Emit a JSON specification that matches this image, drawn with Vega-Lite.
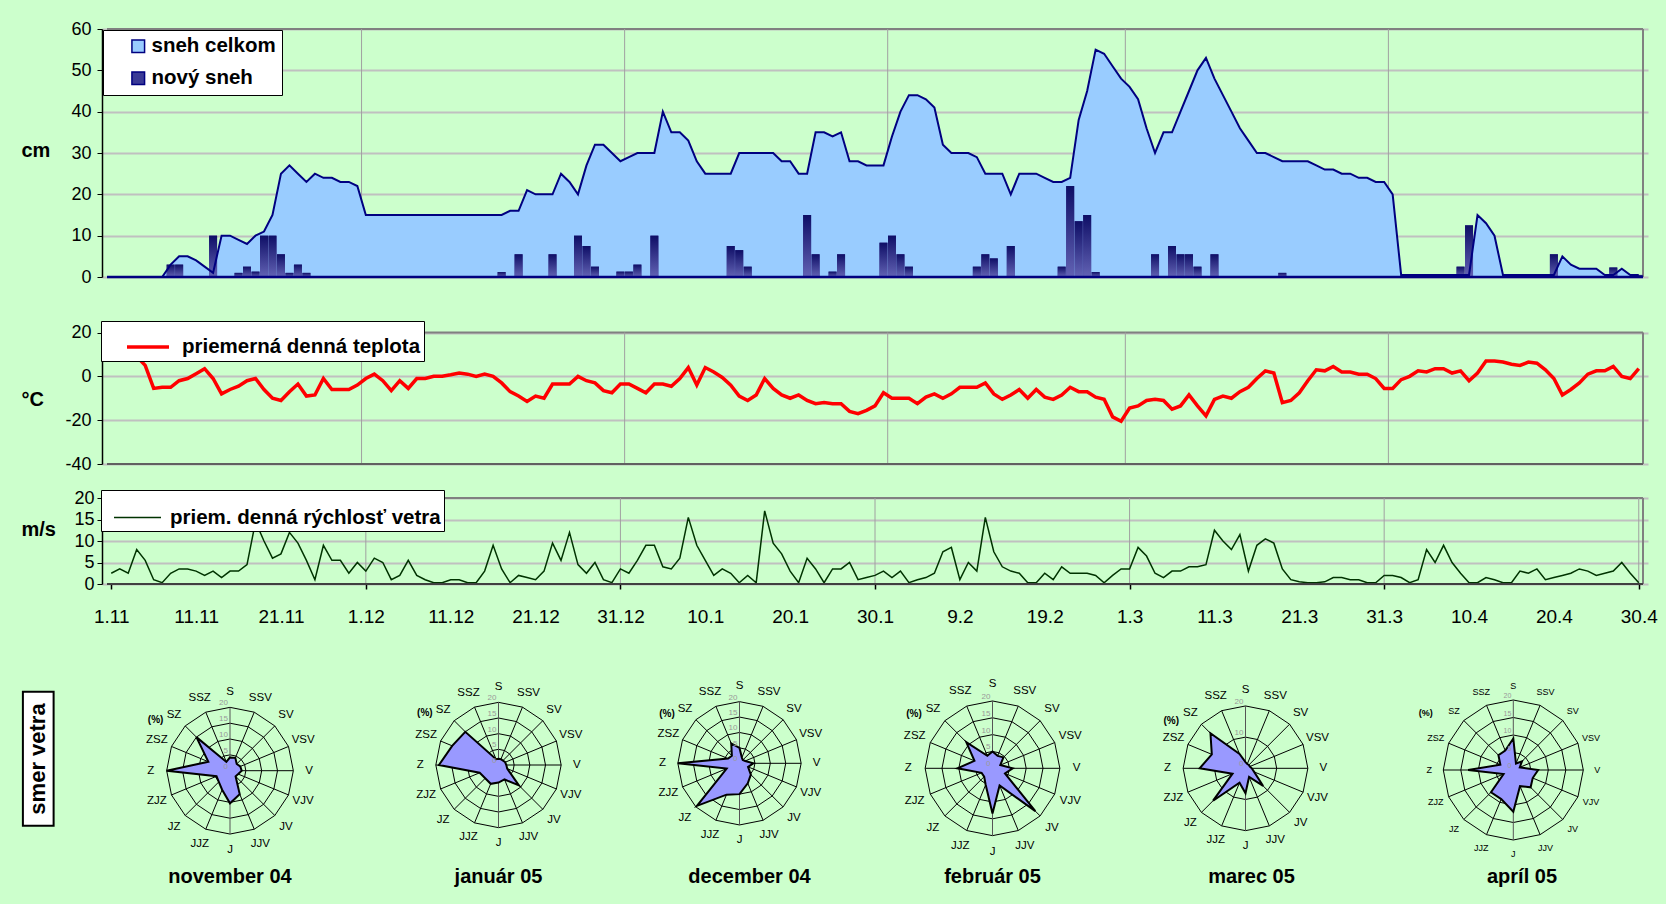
{
"$schema": "https://vega.github.io/schema/vega-lite/v6.json",
"background": "#CCFFCC",
"padding": {"left": 21, "top": 20, "right": 0, "bottom": 17},
"bounds": "flush",
"spacing": 80,
"datasets": {
"days": [
{"d":0,"snow":0,"newSnow":0,"temp":10,"wind":2.5},{"d":1,"snow":0,"newSnow":0,"temp":10,"wind":3.5},{"d":2,"snow":0,"newSnow":0,"temp":10,"wind":2.5},{"d":3,"snow":0,"newSnow":0,"temp":9,"wind":8},{"d":4,"snow":0,"newSnow":0,"temp":5,"wind":5.5},{"d":5,"snow":0,"newSnow":0,"temp":-5.5,"wind":1},{"d":6,"snow":0,"newSnow":0,"temp":-5,"wind":0.3},{"d":7,"snow":3,"newSnow":3,"temp":-5,"wind":2.5},{"d":8,"snow":5,"newSnow":3,"temp":-2,"wind":3.5},{"d":9,"snow":5,"newSnow":0,"temp":-1,"wind":3.5},
{"d":10,"snow":4,"newSnow":0,"temp":1.2,"wind":3},{"d":11,"snow":2.5,"newSnow":0,"temp":3.5,"wind":2},{"d":12,"snow":1,"newSnow":10,"temp":-1,"wind":3},{"d":13,"snow":10,"newSnow":0,"temp":-8,"wind":1.5},{"d":14,"snow":10,"newSnow":0,"temp":-6,"wind":3},{"d":15,"snow":9,"newSnow":1,"temp":-4.5,"wind":3},{"d":16,"snow":8,"newSnow":2.5,"temp":-2,"wind":4.5},{"d":17,"snow":10,"newSnow":1.3,"temp":-1,"wind":14.5},{"d":18,"snow":11,"newSnow":10,"temp":-6,"wind":10},{"d":19,"snow":15,"newSnow":10,"temp":-10,"wind":6},
{"d":20,"snow":25,"newSnow":5.5,"temp":-11,"wind":7},{"d":21,"snow":27,"newSnow":1,"temp":-7,"wind":12},{"d":22,"snow":25,"newSnow":3,"temp":-3.5,"wind":9.5},{"d":23,"snow":23,"newSnow":1,"temp":-9,"wind":5.5},{"d":24,"snow":25,"newSnow":0,"temp":-8.5,"wind":1},{"d":25,"snow":24,"newSnow":0,"temp":-1,"wind":9},{"d":26,"snow":24,"newSnow":0,"temp":-6,"wind":5.5},{"d":27,"snow":23,"newSnow":0,"temp":-6,"wind":5.5},{"d":28,"snow":23,"newSnow":0,"temp":-6,"wind":2.5},{"d":29,"snow":22,"newSnow":0,"temp":-4,"wind":5},
{"d":30,"snow":15,"newSnow":0,"temp":-1,"wind":3},{"d":31,"snow":15,"newSnow":0,"temp":1,"wind":6},{"d":32,"snow":15,"newSnow":0,"temp":-2,"wind":5},{"d":33,"snow":15,"newSnow":0,"temp":-6.5,"wind":1},{"d":34,"snow":15,"newSnow":0,"temp":-2,"wind":2},{"d":35,"snow":15,"newSnow":0,"temp":-5.5,"wind":5.5},{"d":36,"snow":15,"newSnow":0,"temp":-1,"wind":2},{"d":37,"snow":15,"newSnow":0,"temp":-1,"wind":1},{"d":38,"snow":15,"newSnow":0,"temp":0,"wind":0.3},{"d":39,"snow":15,"newSnow":0,"temp":0,"wind":0.3},
{"d":40,"snow":15,"newSnow":0,"temp":0.7,"wind":1},{"d":41,"snow":15,"newSnow":0,"temp":1.5,"wind":1},{"d":42,"snow":15,"newSnow":0,"temp":1,"wind":0.3},{"d":43,"snow":15,"newSnow":0,"temp":0,"wind":0.3},{"d":44,"snow":15,"newSnow":0,"temp":1,"wind":3},{"d":45,"snow":15,"newSnow":0,"temp":0,"wind":9},{"d":46,"snow":15,"newSnow":1.2,"temp":-3,"wind":3.5},{"d":47,"snow":16,"newSnow":0,"temp":-7,"wind":0.3},{"d":48,"snow":16,"newSnow":5.5,"temp":-9,"wind":2},{"d":49,"snow":21,"newSnow":0,"temp":-11.5,"wind":1.5},
{"d":50,"snow":20,"newSnow":0,"temp":-9,"wind":1},{"d":51,"snow":20,"newSnow":0,"temp":-10,"wind":3},{"d":52,"snow":20,"newSnow":5.5,"temp":-3.5,"wind":9.5},{"d":53,"snow":25,"newSnow":0,"temp":-3.5,"wind":5.5},{"d":54,"snow":23,"newSnow":0,"temp":-3.5,"wind":12},{"d":55,"snow":20,"newSnow":10,"temp":0,"wind":4.5},{"d":56,"snow":27,"newSnow":7.5,"temp":-2,"wind":2.5},{"d":57,"snow":32,"newSnow":2.5,"temp":-3,"wind":5},{"d":58,"snow":32,"newSnow":0,"temp":-6.5,"wind":1},{"d":59,"snow":30,"newSnow":0,"temp":-7.5,"wind":0.3},
{"d":60,"snow":28,"newSnow":1.3,"temp":-3.5,"wind":3.5},{"d":61,"snow":29,"newSnow":1.3,"temp":-3.5,"wind":2.5},{"d":62,"snow":30,"newSnow":3,"temp":-5.5,"wind":5.5},{"d":63,"snow":30,"newSnow":0,"temp":-7.5,"wind":9},{"d":64,"snow":30,"newSnow":10,"temp":-3.5,"wind":9},{"d":65,"snow":40,"newSnow":0,"temp":-3.5,"wind":4},{"d":66,"snow":35,"newSnow":0,"temp":-4.5,"wind":3.5},{"d":67,"snow":35,"newSnow":0,"temp":-1,"wind":6},{"d":68,"snow":33,"newSnow":0,"temp":4,"wind":15.5},{"d":69,"snow":28,"newSnow":0,"temp":-4,"wind":9},
{"d":70,"snow":25,"newSnow":0,"temp":4,"wind":5.5},{"d":71,"snow":25,"newSnow":0,"temp":2,"wind":2},{"d":72,"snow":25,"newSnow":0,"temp":-0.5,"wind":3.5},{"d":73,"snow":25,"newSnow":7.5,"temp":-4,"wind":2.5},{"d":74,"snow":30,"newSnow":6.5,"temp":-9,"wind":0.3},{"d":75,"snow":30,"newSnow":2.5,"temp":-11,"wind":2},{"d":76,"snow":30,"newSnow":0,"temp":-8.5,"wind":0.3},{"d":77,"snow":30,"newSnow":0,"temp":-1,"wind":17},{"d":78,"snow":30,"newSnow":0,"temp":-5.5,"wind":9.5},{"d":79,"snow":28,"newSnow":0,"temp":-8.5,"wind":7},
{"d":80,"snow":28,"newSnow":0,"temp":-10,"wind":3},{"d":81,"snow":25,"newSnow":0,"temp":-8.5,"wind":0.3},{"d":82,"snow":25,"newSnow":15,"temp":-11,"wind":6},{"d":83,"snow":35,"newSnow":5.5,"temp":-12.5,"wind":3.5},{"d":84,"snow":35,"newSnow":0,"temp":-12,"wind":0.3},{"d":85,"snow":34,"newSnow":1.3,"temp":-12.5,"wind":3.5},{"d":86,"snow":35,"newSnow":5.5,"temp":-12.5,"wind":3.5},{"d":87,"snow":28,"newSnow":0,"temp":-16,"wind":5},{"d":88,"snow":28,"newSnow":0,"temp":-17,"wind":1},{"d":89,"snow":27,"newSnow":0,"temp":-15.5,"wind":1.5},
{"d":90,"snow":27,"newSnow":0,"temp":-13.5,"wind":2},{"d":91,"snow":27,"newSnow":8.3,"temp":-7.5,"wind":3},{"d":92,"snow":34,"newSnow":10,"temp":-10,"wind":1.5},{"d":93,"snow":40,"newSnow":5.5,"temp":-10,"wind":3},{"d":94,"snow":44,"newSnow":2.5,"temp":-10,"wind":0.3},{"d":95,"snow":44,"newSnow":0,"temp":-12.5,"wind":1},{"d":96,"snow":43,"newSnow":0,"temp":-9.5,"wind":1.5},{"d":97,"snow":41,"newSnow":0,"temp":-8,"wind":2.5},{"d":98,"snow":32,"newSnow":0,"temp":-10,"wind":7.5},{"d":99,"snow":30,"newSnow":0,"temp":-8,"wind":8.5},
{"d":100,"snow":30,"newSnow":0,"temp":-5,"wind":1},{"d":101,"snow":30,"newSnow":0,"temp":-5,"wind":5},{"d":102,"snow":29,"newSnow":2.5,"temp":-5,"wind":3},{"d":103,"snow":25,"newSnow":5.5,"temp":-3,"wind":15.5},{"d":104,"snow":25,"newSnow":4.5,"temp":-8,"wind":7.5},{"d":105,"snow":25,"newSnow":0,"temp":-10.5,"wind":4},{"d":106,"snow":20,"newSnow":7.5,"temp":-8.5,"wind":3},{"d":107,"snow":25,"newSnow":0,"temp":-6,"wind":2.5},{"d":108,"snow":25,"newSnow":0,"temp":-10,"wind":0.3},{"d":109,"snow":25,"newSnow":0,"temp":-6,"wind":0.3},
{"d":110,"snow":24,"newSnow":0,"temp":-9.5,"wind":2.5},{"d":111,"snow":23,"newSnow":0,"temp":-10.5,"wind":1},{"d":112,"snow":23,"newSnow":2.5,"temp":-8.5,"wind":4},{"d":113,"snow":24,"newSnow":22,"temp":-5,"wind":2.5},{"d":114,"snow":38,"newSnow":13.5,"temp":-7,"wind":2.5},{"d":115,"snow":45,"newSnow":15,"temp":-7,"wind":2.5},{"d":116,"snow":55,"newSnow":1.2,"temp":-9.5,"wind":2},{"d":117,"snow":54,"newSnow":0,"temp":-10.5,"wind":0.3},{"d":118,"snow":51,"newSnow":0,"temp":-18.5,"wind":2},{"d":119,"snow":48,"newSnow":0,"temp":-20.5,"wind":3.5},
{"d":120,"snow":46,"newSnow":0,"temp":-14.5,"wind":3.5},{"d":121,"snow":43,"newSnow":0,"temp":-13.5,"wind":8.5},{"d":122,"snow":36,"newSnow":0,"temp":-11,"wind":6.5},{"d":123,"snow":30,"newSnow":5.5,"temp":-10.5,"wind":2.5},{"d":124,"snow":35,"newSnow":0,"temp":-11,"wind":1.5},{"d":125,"snow":35,"newSnow":7.5,"temp":-15,"wind":3},{"d":126,"snow":40,"newSnow":5.5,"temp":-13.5,"wind":3},{"d":127,"snow":45,"newSnow":5.5,"temp":-8.5,"wind":4},{"d":128,"snow":50,"newSnow":2.5,"temp":-13.5,"wind":4},{"d":129,"snow":53,"newSnow":0,"temp":-18,"wind":4.5},
{"d":130,"snow":48,"newSnow":5.5,"temp":-10.5,"wind":12.5},{"d":131,"snow":44,"newSnow":0,"temp":-9,"wind":10},{"d":132,"snow":40,"newSnow":0,"temp":-10,"wind":8},{"d":133,"snow":36,"newSnow":0,"temp":-7,"wind":11.5},{"d":134,"snow":33,"newSnow":0,"temp":-5,"wind":3},{"d":135,"snow":30,"newSnow":0,"temp":-1,"wind":9},{"d":136,"snow":30,"newSnow":0,"temp":2.5,"wind":10.5},{"d":137,"snow":29,"newSnow":0,"temp":1.5,"wind":9.5},{"d":138,"snow":28,"newSnow":1,"temp":-12,"wind":3.5},{"d":139,"snow":28,"newSnow":0,"temp":-11,"wind":1},
{"d":140,"snow":28,"newSnow":0,"temp":-7.5,"wind":0.5},{"d":141,"snow":28,"newSnow":0,"temp":-2,"wind":0.3},{"d":142,"snow":27,"newSnow":0,"temp":3,"wind":0.3},{"d":143,"snow":26,"newSnow":0,"temp":2.5,"wind":0.5},{"d":144,"snow":26,"newSnow":0,"temp":4.5,"wind":1.5},{"d":145,"snow":25,"newSnow":0,"temp":2,"wind":1.5},{"d":146,"snow":25,"newSnow":0,"temp":2,"wind":1},{"d":147,"snow":24,"newSnow":0,"temp":1,"wind":1},{"d":148,"snow":24,"newSnow":0,"temp":1,"wind":0.3},{"d":149,"snow":23,"newSnow":0,"temp":-1,"wind":0.3},
{"d":150,"snow":23,"newSnow":0,"temp":-5.5,"wind":2},{"d":151,"snow":20,"newSnow":0,"temp":-5.5,"wind":2},{"d":152,"snow":0.5,"newSnow":0,"temp":-1.5,"wind":1.5},{"d":153,"snow":0.5,"newSnow":0,"temp":0,"wind":0.3},{"d":154,"snow":0.5,"newSnow":0,"temp":2.5,"wind":1},{"d":155,"snow":0.5,"newSnow":0,"temp":2,"wind":8},{"d":156,"snow":0.5,"newSnow":0,"temp":3.5,"wind":5},{"d":157,"snow":0.5,"newSnow":0,"temp":3.5,"wind":9},{"d":158,"snow":0.5,"newSnow":0,"temp":1.5,"wind":5},{"d":159,"snow":0.5,"newSnow":2.5,"temp":2.5,"wind":2.5},
{"d":160,"snow":0.5,"newSnow":12.5,"temp":-2,"wind":0.3},{"d":161,"snow":15,"newSnow":0,"temp":1.5,"wind":0.3},{"d":162,"snow":13,"newSnow":0,"temp":7,"wind":1.5},{"d":163,"snow":10,"newSnow":0,"temp":7,"wind":1},{"d":164,"snow":0.5,"newSnow":0,"temp":6.5,"wind":0.3},{"d":165,"snow":0.5,"newSnow":0,"temp":5.5,"wind":0.3},{"d":166,"snow":0.5,"newSnow":0,"temp":5,"wind":3},{"d":167,"snow":0.5,"newSnow":0,"temp":6.5,"wind":2.5},{"d":168,"snow":0.5,"newSnow":0,"temp":6,"wind":3.5},{"d":169,"snow":0.5,"newSnow":0,"temp":3,"wind":1},
{"d":170,"snow":0.5,"newSnow":5.5,"temp":-1,"wind":1.5},{"d":171,"snow":5,"newSnow":0,"temp":-8.5,"wind":2},{"d":172,"snow":3,"newSnow":0,"temp":-6,"wind":2.5},{"d":173,"snow":2,"newSnow":0,"temp":-3,"wind":3.5},{"d":174,"snow":2,"newSnow":0,"temp":1,"wind":3},{"d":175,"snow":2,"newSnow":0,"temp":2.5,"wind":2},{"d":176,"snow":0.5,"newSnow":0,"temp":2.5,"wind":2.5},{"d":177,"snow":0.5,"newSnow":2.3,"temp":4.5,"wind":3},{"d":178,"snow":2,"newSnow":0,"temp":0,"wind":5},{"d":179,"snow":0.5,"newSnow":0,"temp":-1,"wind":2.5},
{"d":180,"snow":0.5,"newSnow":0.5,"temp":3.5,"wind":0.3}
],
"months": [{"den":30},{"den":61},{"den":92},{"den":120},{"den":151}],
"tri": [{"den":30},{"den":60},{"den":90},{"den":120},{"den":150},{"den":180}],
"dirs": [
{"dir":"S","i":0,"ring":[5,10,15,20]},{"dir":"SSV","i":1,"ring":[5,10,15,20]},{"dir":"SV","i":2,"ring":[5,10,15,20]},{"dir":"VSV","i":3,"ring":[5,10,15,20]},
{"dir":"V","i":4,"ring":[5,10,15,20]},{"dir":"VJV","i":5,"ring":[5,10,15,20]},{"dir":"JV","i":6,"ring":[5,10,15,20]},{"dir":"JJV","i":7,"ring":[5,10,15,20]},
{"dir":"J","i":8,"ring":[5,10,15,20]},{"dir":"JJZ","i":9,"ring":[5,10,15,20]},{"dir":"JZ","i":10,"ring":[5,10,15,20]},{"dir":"ZJZ","i":11,"ring":[5,10,15,20]},
{"dir":"Z","i":12,"ring":[5,10,15,20]},{"dir":"ZSZ","i":13,"ring":[5,10,15,20]},{"dir":"SZ","i":14,"ring":[5,10,15,20]},{"dir":"SSZ","i":15,"ring":[5,10,15,20]}
],
"levels": [{"ring":0},{"ring":5},{"ring":10},{"ring":15},{"ring":20}],
"rose": [
{"m":"november 04","i":0,"p":4.2},{"m":"november 04","i":1,"p":4.4},{"m":"november 04","i":2,"p":3},{"m":"november 04","i":3,"p":3.5},{"m":"november 04","i":4,"p":3.7},{"m":"november 04","i":5,"p":2.8},{"m":"november 04","i":6,"p":2.5},{"m":"november 04","i":7,"p":8},{"m":"november 04","i":8,"p":10.3},{"m":"november 04","i":9,"p":6.5},{"m":"november 04","i":10,"p":5},{"m":"november 04","i":11,"p":4.6},{"m":"november 04","i":12,"p":20},{"m":"november 04","i":13,"p":7.4},{"m":"november 04","i":14,"p":15},{"m":"november 04","i":15,"p":3},
{"m":"január 05","i":0,"p":2},{"m":"január 05","i":1,"p":2},{"m":"január 05","i":2,"p":2},{"m":"január 05","i":3,"p":2.3},{"m":"január 05","i":4,"p":2.5},{"m":"január 05","i":5,"p":3},{"m":"január 05","i":6,"p":9.2},{"m":"január 05","i":7,"p":5},{"m":"január 05","i":8,"p":5.6},{"m":"január 05","i":9,"p":6.5},{"m":"január 05","i":10,"p":6},{"m":"január 05","i":11,"p":6.5},{"m":"január 05","i":12,"p":19},{"m":"január 05","i":13,"p":16},{"m":"január 05","i":14,"p":15},{"m":"január 05","i":15,"p":2},
{"m":"december 04","i":0,"p":5},{"m":"december 04","i":1,"p":2},{"m":"december 04","i":2,"p":1.5},{"m":"december 04","i":3,"p":2},{"m":"december 04","i":4,"p":4.5},{"m":"december 04","i":5,"p":3},{"m":"december 04","i":6,"p":5.2},{"m":"december 04","i":7,"p":7},{"m":"december 04","i":8,"p":10},{"m":"december 04","i":9,"p":11},{"m":"december 04","i":10,"p":19.5},{"m":"december 04","i":11,"p":4.5},{"m":"december 04","i":12,"p":20},{"m":"december 04","i":13,"p":4},{"m":"december 04","i":14,"p":3.5},{"m":"december 04","i":15,"p":7},
{"m":"február 05","i":0,"p":5},{"m":"február 05","i":1,"p":4},{"m":"február 05","i":2,"p":4.6},{"m":"február 05","i":3,"p":2.5},{"m":"február 05","i":4,"p":6},{"m":"február 05","i":5,"p":4},{"m":"február 05","i":6,"p":18},{"m":"február 05","i":7,"p":5.5},{"m":"február 05","i":8,"p":13.4},{"m":"február 05","i":9,"p":5.3},{"m":"február 05","i":10,"p":3.5},{"m":"február 05","i":11,"p":3.5},{"m":"február 05","i":12,"p":10.4},{"m":"február 05","i":13,"p":5.8},{"m":"február 05","i":14,"p":11},{"m":"február 05","i":15,"p":4},
{"m":"marec 05","i":0,"p":2},{"m":"marec 05","i":1,"p":1.5},{"m":"marec 05","i":2,"p":1.5},{"m":"marec 05","i":3,"p":1.5},{"m":"marec 05","i":4,"p":2},{"m":"marec 05","i":5,"p":3},{"m":"marec 05","i":6,"p":8},{"m":"marec 05","i":7,"p":3},{"m":"marec 05","i":8,"p":8},{"m":"marec 05","i":9,"p":5},{"m":"marec 05","i":10,"p":14.7},{"m":"marec 05","i":11,"p":4.5},{"m":"marec 05","i":12,"p":14.7},{"m":"marec 05","i":13,"p":11.7},{"m":"marec 05","i":14,"p":15.9},{"m":"marec 05","i":15,"p":5},
{"m":"apríl 05","i":0,"p":9},{"m":"apríl 05","i":1,"p":2},{"m":"apríl 05","i":2,"p":3.5},{"m":"apríl 05","i":3,"p":2},{"m":"apríl 05","i":4,"p":7.1},{"m":"apríl 05","i":5,"p":6},{"m":"apríl 05","i":6,"p":7},{"m":"apríl 05","i":7,"p":5},{"m":"apríl 05","i":8,"p":11.9},{"m":"apríl 05","i":9,"p":9},{"m":"apríl 05","i":10,"p":9},{"m":"apríl 05","i":11,"p":3},{"m":"apríl 05","i":12,"p":12.9},{"m":"apríl 05","i":13,"p":4},{"m":"apríl 05","i":14,"p":6},{"m":"apríl 05","i":15,"p":6}
]
},
"vconcat": [
{
"width": 1546, "height": 555,
"data": {"name": "days"},
"layer": [
{"resolve": {"axis": {"x": "independent", "y": "independent"}},
"layer": [
{"data": {"values": [{}]}, "mark": {"type": "rule", "stroke": "#808080", "strokeWidth": 2},
 "encoding": {"x": {"datum": -0.5, "type": "quantitative", "scale": {"domain": [-0.5, 180.5], "nice": false, "zero": false}, "axis": null}, "x2": {"datum": 180.5},
 "y": {"datum": 60, "type": "quantitative", "scale": {"domain": [0, 60], "range": [248, 0], "nice": false, "zero": false}, "axis": null}}},
{"data": {"values": [{}]}, "mark": {"type": "rule", "stroke": "#808080", "strokeWidth": 2},
 "encoding": {"x": {"datum": 180.5, "type": "quantitative", "scale": {"domain": [-0.5, 180.5], "nice": false, "zero": false}, "axis": null},
 "y": {"datum": 0, "type": "quantitative", "scale": {"domain": [0, 60], "range": [248, 0], "nice": false, "zero": false}, "axis": null}, "y2": {"datum": 60}}},
{"data": {"name": "months"}, "mark": {"type": "rule", "stroke": "#A0A0A0", "strokeWidth": 1, "xOffset": -4.27},
 "encoding": {"x": {"field": "den", "type": "quantitative", "scale": {"domain": [-0.5, 180.5], "nice": false, "zero": false}, "axis": null},
 "y": {"datum": 0, "type": "quantitative", "scale": {"domain": [0, 60], "range": [248, 0], "nice": false, "zero": false}, "axis": null}, "y2": {"datum": 60}}},
{"mark": {"type": "area", "interpolate": "linear", "orient": "vertical"},
 "encoding": {"x": {"field": "d", "type": "quantitative", "scale": {"domain": [-0.5, 180.5], "nice": false, "zero": false}, "axis": null},
 "y": {"field": "snow", "type": "quantitative", "stack": null, "scale": {"domain": [0, 60], "range": [248, 0], "nice": false, "zero": false},
  "axis": {"orient": "left", "values": [0,10,20,30,40,50,60], "grid": true, "gridColor": "#C0C0C0", "gridWidth": 2, "domain": true, "domainColor": "black", "domainWidth": 1.5, "ticks": true, "tickColor": "black", "tickSize": 5, "labels": true, "labelFontSize": 18, "labelColor": "black", "labelPadding": 6, "title": "cm", "titleAngle": 0, "titleX": -81, "titleY": 121, "titleAlign": "left", "titleBaseline": "middle", "titleFontSize": 20, "titleFontWeight": "bold", "titleColor": "black"}},
 "fill": {"datum": "sneh celkom", "type": "nominal", "scale": {"domain": ["sneh celkom", "nový sneh"], "range": ["#99CCFF", "#3A3A96"]},
  "legend": {"orient": "none", "legendX": 1, "legendY": 1, "title": null, "fillColor": "white", "strokeColor": "black", "padding": 6, "symbolType": "square", "symbolSize": 160, "symbolStrokeColor": "#000080", "symbolStrokeWidth": 1.5, "symbolOffset": 19, "labelFontSize": 20.5, "labelFontWeight": "bold", "labelColor": "black", "labelOffset": 3, "rowPadding": 11, "labelLimit": 400}}}},
{"transform": [{"filter": "datum.newSnow > 0"}], "mark": {"type": "bar", "size": 8, "orient": "vertical"},
 "encoding": {"x": {"field": "d", "type": "quantitative", "scale": {"domain": [-0.5, 180.5], "nice": false, "zero": false}, "axis": null},
 "y": {"field": "newSnow", "type": "quantitative", "stack": null, "scale": {"domain": [0, 60], "range": [248, 0], "nice": false, "zero": false}, "axis": null},
 "fill": {"datum": "nový sneh", "type": "nominal"}}},
{"transform": [{"filter": "datum.newSnow > 0"}], "mark": {"type": "bar", "size": 8, "orient": "vertical", "fill": {"gradient": "linear", "x1": 0, "y1": 0, "x2": 0, "y2": 1, "stops": [{"offset": 0, "color": "#0E0E66"}, {"offset": 1, "color": "#6262B4"}]}},
 "encoding": {"x": {"field": "d", "type": "quantitative", "scale": {"domain": [-0.5, 180.5], "nice": false, "zero": false}, "axis": null},
 "y": {"field": "newSnow", "type": "quantitative", "stack": null, "scale": {"domain": [0, 60], "range": [248, 0], "nice": false, "zero": false}, "axis": null}}},
{"mark": {"type": "line", "stroke": "#000080", "strokeWidth": 2},
 "encoding": {"x": {"field": "d", "type": "quantitative", "scale": {"domain": [-0.5, 180.5], "nice": false, "zero": false}, "axis": null},
 "y": {"field": "snow", "type": "quantitative", "scale": {"domain": [0, 60], "range": [248, 0], "nice": false, "zero": false}, "axis": null}}},
{"data": {"values": [{}]}, "mark": {"type": "rule", "stroke": "#000080", "strokeWidth": 2.5},
 "encoding": {"x": {"datum": -0.5, "type": "quantitative", "scale": {"domain": [-0.5, 180.5], "nice": false, "zero": false}, "axis": null}, "x2": {"datum": 180.5},
 "y": {"datum": 0, "type": "quantitative", "scale": {"domain": [0, 60], "range": [248, 0], "nice": false, "zero": false}, "axis": null}}}
]},
{"resolve": {"axis": {"x": "independent", "y": "independent"}},
"layer": [
{"data": {"values": [{}]}, "mark": {"type": "rule", "stroke": "#808080", "strokeWidth": 2},
 "encoding": {"x": {"datum": -0.5, "type": "quantitative", "scale": {"domain": [-0.5, 180.5], "nice": false, "zero": false}, "axis": null}, "x2": {"datum": 180.5},
 "y": {"datum": 20, "type": "quantitative", "scale": {"domain": [-40, 20], "range": [435, 303.5], "nice": false, "zero": false}, "axis": null}}},
{"data": {"values": [{}]}, "mark": {"type": "rule", "stroke": "#808080", "strokeWidth": 2},
 "encoding": {"x": {"datum": 180.5, "type": "quantitative", "scale": {"domain": [-0.5, 180.5], "nice": false, "zero": false}, "axis": null},
 "y": {"datum": -40, "type": "quantitative", "scale": {"domain": [-40, 20], "range": [435, 303.5], "nice": false, "zero": false}, "axis": null}, "y2": {"datum": 20}}},
{"data": {"name": "months"}, "mark": {"type": "rule", "stroke": "#A0A0A0", "strokeWidth": 1, "xOffset": -4.27},
 "encoding": {"x": {"field": "den", "type": "quantitative", "scale": {"domain": [-0.5, 180.5], "nice": false, "zero": false}, "axis": null},
 "y": {"datum": -40, "type": "quantitative", "scale": {"domain": [-40, 20], "range": [435, 303.5], "nice": false, "zero": false}, "axis": null}, "y2": {"datum": 20}}},
{"data": {"values": [{}]}, "mark": {"type": "rule", "stroke": "#606060", "strokeWidth": 2},
 "encoding": {"x": {"datum": -0.5, "type": "quantitative", "scale": {"domain": [-0.5, 180.5], "nice": false, "zero": false}, "axis": null}, "x2": {"datum": 180.5},
 "y": {"datum": -40, "type": "quantitative", "scale": {"domain": [-40, 20], "range": [435, 303.5], "nice": false, "zero": false}, "axis": null}}},
{"mark": {"type": "line", "strokeWidth": 3.5},
 "encoding": {"x": {"field": "d", "type": "quantitative", "scale": {"domain": [-0.5, 180.5], "nice": false, "zero": false}, "axis": null},
 "y": {"field": "temp", "type": "quantitative", "scale": {"domain": [-40, 20], "range": [435, 303.5], "nice": false, "zero": false},
  "axis": {"orient": "left", "values": [-40,-20,0,20], "labelExpr": "'' + datum.value", "grid": true, "gridColor": "#C0C0C0", "gridWidth": 2, "domain": true, "domainColor": "black", "domainWidth": 1.5, "ticks": true, "tickColor": "black", "tickSize": 5, "labels": true, "labelFontSize": 18, "labelColor": "black", "labelPadding": 6, "title": "°C", "titleAngle": 0, "titleX": -81, "titleY": 370, "titleAlign": "left", "titleBaseline": "middle", "titleFontSize": 20, "titleFontWeight": "bold", "titleColor": "black"}},
 "stroke": {"datum": "priemerná denná teplota", "type": "nominal", "scale": {"range": ["#FF0000"]},
  "legend": {"orient": "none", "legendX": -1, "legendY": 292, "title": null, "fillColor": "white", "strokeColor": "black", "padding": 3, "symbolType": "stroke", "symbolSize": 1764, "symbolStrokeWidth": 3.5, "symbolOffset": 21, "labelFontSize": 20.5, "labelFontWeight": "bold", "labelColor": "black", "labelOffset": 11, "labelLimit": 400}}}}
]},
{"resolve": {"axis": {"x": "independent", "y": "independent"}},
"layer": [
{"data": {"values": [{}]}, "mark": {"type": "rule", "stroke": "#808080", "strokeWidth": 2},
 "encoding": {"x": {"datum": -0.5, "type": "quantitative", "scale": {"domain": [-0.5, 180.5], "nice": false, "zero": false}, "axis": null}, "x2": {"datum": 180.5},
 "y": {"datum": 20, "type": "quantitative", "scale": {"domain": [0, 20], "range": [555, 469], "nice": false, "zero": false}, "axis": null}}},
{"data": {"values": [{}]}, "mark": {"type": "rule", "stroke": "#808080", "strokeWidth": 2},
 "encoding": {"x": {"datum": 180.5, "type": "quantitative", "scale": {"domain": [-0.5, 180.5], "nice": false, "zero": false}, "axis": null},
 "y": {"datum": 0, "type": "quantitative", "scale": {"domain": [0, 20], "range": [555, 469], "nice": false, "zero": false}, "axis": null}, "y2": {"datum": 20}}},
{"data": {"name": "tri"}, "mark": {"type": "rule", "stroke": "#A0A0A0", "strokeWidth": 1},
 "encoding": {"x": {"field": "den", "type": "quantitative", "scale": {"domain": [-0.5, 180.5], "nice": false, "zero": false}, "axis": null},
 "y": {"datum": 0, "type": "quantitative", "scale": {"domain": [0, 20], "range": [555, 469], "nice": false, "zero": false}, "axis": null}, "y2": {"datum": 20}}},
{"mark": {"type": "line", "strokeWidth": 1.5},
 "encoding": {"x": {"field": "d", "type": "quantitative", "scale": {"domain": [-0.5, 180.5], "nice": false, "zero": false},
  "axis": {"orient": "bottom", "values": [0,10,20,30,40,50,60,70,80,90,100,110,120,130,140,150,160,170,180], "labelExpr": "timeFormat(datetime(2004, 10, 1 + datum.value), '%-d.%-m')", "grid": false, "domain": false, "ticks": true, "tickSize": 5, "tickColor": "black", "tickWidth": 1.5, "tickOpacity": {"condition": {"test": "datum.value % 30 == 0", "value": 1}, "value": 0}, "labels": true, "labelFontSize": 19, "labelColor": "black", "labelPadding": 18, "labelFlush": false, "labelOverlap": false, "title": null}},
 "y": {"field": "wind", "type": "quantitative", "scale": {"domain": [0, 20], "range": [555, 469], "nice": false, "zero": false},
  "axis": {"orient": "left", "values": [0,5,10,15,20], "grid": true, "gridColor": "#C0C0C0", "gridWidth": 2, "domain": true, "domainColor": "black", "domainWidth": 1.5, "ticks": true, "tickColor": "black", "tickSize": 5, "labels": true, "labelFontSize": 18, "labelColor": "black", "labelPadding": 3, "title": "m/s", "titleAngle": 0, "titleX": -81, "titleY": 500, "titleAlign": "left", "titleBaseline": "middle", "titleFontSize": 20, "titleFontWeight": "bold", "titleColor": "black"}},
 "stroke": {"datum": "priem. denná rýchlosť vetra", "type": "nominal", "scale": {"range": ["#003300"]},
  "legend": {"orient": "none", "legendX": -1, "legendY": 461, "title": null, "fillColor": "white", "strokeColor": "black", "padding": 3, "symbolType": "stroke", "symbolSize": 2209, "symbolStrokeWidth": 1.5, "symbolOffset": 9, "labelFontSize": 20.5, "labelFontWeight": "bold", "labelColor": "black", "labelOffset": 8, "labelLimit": 400}}}},
{"data": {"values": [{}]}, "mark": {"type": "rule", "stroke": "#404040", "strokeWidth": 2},
 "encoding": {"x": {"datum": -0.5, "type": "quantitative", "scale": {"domain": [-0.5, 180.5], "nice": false, "zero": false}, "axis": null}, "x2": {"datum": 180.5},
 "y": {"datum": 0, "type": "quantitative", "scale": {"domain": [0, 20], "range": [555, 469], "nice": false, "zero": false}, "axis": null}}}
]}
],
"resolve": {"scale": {"y": "independent", "stroke": "independent"}, "axis": {"x": "independent", "y": "independent"}, "legend": {"stroke": "independent"}}
},
{
"hconcat": [
{
"width": 256, "height": 200,
"title": {"text": "november 04", "orient": "bottom", "offset": 3, "fontSize": 20, "fontWeight": "bold", "color": "black", "anchor": "middle", "dx": 0},
"encoding": {"x": {"field": "px", "type": "quantitative", "scale": {"domain": [-40.42, 40.42], "nice": false, "zero": false}, "axis": null},
 "y": {"field": "py", "type": "quantitative", "scale": {"domain": [-29.46, 33.69], "nice": false, "zero": false}, "axis": null}},
"layer": [
{"data": {"name": "dirs"}, "transform": [{"flatten": ["ring"]}, {"calculate": "datum.ring * sin(datum.i * PI / 8)", "as": "px"}, {"calculate": "datum.ring * cos(datum.i * PI / 8)", "as": "py"}],
 "mark": {"type": "line", "interpolate": "linear-closed", "stroke": "black", "strokeWidth": 1}, "encoding": {"detail": {"field": "ring", "type": "nominal"}, "order": {"field": "i", "type": "quantitative"}}},
{"data": {"name": "dirs"}, "transform": [{"calculate": "0", "as": "px"}, {"calculate": "0", "as": "py"}, {"calculate": "20 * sin(datum.i * PI / 8)", "as": "qx"}, {"calculate": "20 * cos(datum.i * PI / 8)", "as": "qy"}],
 "mark": {"type": "rule", "strokeWidth": 1}, "encoding": {"x2": {"field": "qx"}, "y2": {"field": "qy"}, "stroke": {"condition": {"test": "datum.i % 8 == 0", "value": "#555555"}, "value": "black"}}},
{"data": {"name": "rose"}, "transform": [{"filter": "datum.m == 'november 04'"}, {"calculate": "datum.p * sin(datum.i * PI / 8)", "as": "px"}, {"calculate": "datum.p * cos(datum.i * PI / 8)", "as": "py"}],
 "mark": {"type": "line", "interpolate": "linear-closed", "fill": "#9999FF", "stroke": "black", "strokeWidth": 2}, "encoding": {"order": {"field": "i", "type": "quantitative"}}},
{"data": {"name": "dirs"}, "transform": [{"calculate": "25 * sin(datum.i * PI / 8)", "as": "px"}, {"calculate": "25 * cos(datum.i * PI / 8)", "as": "py"}],
 "mark": {"type": "text", "fontSize": 11.5, "color": "black"}, "encoding": {"text": {"field": "dir", "type": "nominal"}}},
{"data": {"name": "levels"}, "transform": [{"calculate": "0", "as": "px"}, {"calculate": "datum.ring", "as": "py"}],
 "mark": {"type": "text", "fontSize": 8, "color": "#999999", "align": "right", "dx": -2, "dy": -4}, "encoding": {"text": {"field": "ring", "type": "quantitative"}}},
{"data": {"values": [{}]}, "transform": [{"calculate": "-23.5", "as": "px"}, {"calculate": "16", "as": "py"}],
 "mark": {"type": "text", "text": "(%)", "fontSize": 10, "fontWeight": "bold", "color": "black"}},
{"data": {"values": [{}]}, "transform": [{"calculate": "-65.4", "as": "px"}, {"calculate": "-17.4", "as": "py"}, {"calculate": "-55.7", "as": "px2"}, {"calculate": "24.9", "as": "py2"}],
 "mark": {"type": "rect", "fill": "white", "stroke": "black", "strokeWidth": 2}, "encoding": {"x2": {"field": "px2"}, "y2": {"field": "py2"}}},
{"data": {"values": [{}]}, "transform": [{"calculate": "-60.6", "as": "px"}, {"calculate": "3.7", "as": "py"}],
 "mark": {"type": "text", "text": "smer vetra", "angle": 270, "fontSize": 22, "fontWeight": "bold", "color": "black", "align": "center", "baseline": "middle"}}
]
},
{
"width": 281, "height": 200,
"title": {"text": "január 05", "orient": "bottom", "offset": 3, "fontSize": 20, "fontWeight": "bold", "color": "black", "anchor": "middle", "dx": 0},
"encoding": {"x": {"field": "px", "type": "quantitative", "scale": {"domain": [-44.84, 44.84], "nice": false, "zero": false}, "axis": null},
 "y": {"field": "py", "type": "quantitative", "scale": {"domain": [-31.6, 32.24], "nice": false, "zero": false}, "axis": null}},
"layer": [
{"data": {"name": "dirs"}, "transform": [{"flatten": ["ring"]}, {"calculate": "datum.ring * sin(datum.i * PI / 8)", "as": "px"}, {"calculate": "datum.ring * cos(datum.i * PI / 8)", "as": "py"}],
 "mark": {"type": "line", "interpolate": "linear-closed", "stroke": "black", "strokeWidth": 1}, "encoding": {"detail": {"field": "ring", "type": "nominal"}, "order": {"field": "i", "type": "quantitative"}}},
{"data": {"name": "dirs"}, "transform": [{"calculate": "0", "as": "px"}, {"calculate": "0", "as": "py"}, {"calculate": "20 * sin(datum.i * PI / 8)", "as": "qx"}, {"calculate": "20 * cos(datum.i * PI / 8)", "as": "qy"}],
 "mark": {"type": "rule", "strokeWidth": 1}, "encoding": {"x2": {"field": "qx"}, "y2": {"field": "qy"}, "stroke": {"condition": {"test": "datum.i % 8 == 0", "value": "#555555"}, "value": "black"}}},
{"data": {"name": "rose"}, "transform": [{"filter": "datum.m == 'január 05'"}, {"calculate": "datum.p * sin(datum.i * PI / 8)", "as": "px"}, {"calculate": "datum.p * cos(datum.i * PI / 8)", "as": "py"}],
 "mark": {"type": "line", "interpolate": "linear-closed", "fill": "#9999FF", "stroke": "black", "strokeWidth": 2}, "encoding": {"order": {"field": "i", "type": "quantitative"}}},
{"data": {"name": "dirs"}, "transform": [{"calculate": "25 * sin(datum.i * PI / 8)", "as": "px"}, {"calculate": "25 * cos(datum.i * PI / 8)", "as": "py"}],
 "mark": {"type": "text", "fontSize": 11.5, "color": "black"}, "encoding": {"text": {"field": "dir", "type": "nominal"}}},
{"data": {"name": "levels"}, "transform": [{"calculate": "0", "as": "px"}, {"calculate": "datum.ring", "as": "py"}],
 "mark": {"type": "text", "fontSize": 8, "color": "#999999", "align": "right", "dx": -2, "dy": -4}, "encoding": {"text": {"field": "ring", "type": "quantitative"}}},
{"data": {"values": [{}]}, "transform": [{"calculate": "-23.5", "as": "px"}, {"calculate": "16.5", "as": "py"}],
 "mark": {"type": "text", "text": "(%)", "fontSize": 10, "fontWeight": "bold", "color": "black"}}
]
},
{
"width": 201, "height": 200,
"title": {"text": "december 04", "orient": "bottom", "offset": 3, "fontSize": 20, "fontWeight": "bold", "color": "black", "anchor": "middle", "dx": 10},
"encoding": {"x": {"field": "px", "type": "quantitative", "scale": {"domain": [-32.6, 32.6], "nice": false, "zero": false}, "axis": null},
 "y": {"field": "py", "type": "quantitative", "scale": {"domain": [-32.66, 32.21], "nice": false, "zero": false}, "axis": null}},
"layer": [
{"data": {"name": "dirs"}, "transform": [{"flatten": ["ring"]}, {"calculate": "datum.ring * sin(datum.i * PI / 8)", "as": "px"}, {"calculate": "datum.ring * cos(datum.i * PI / 8)", "as": "py"}],
 "mark": {"type": "line", "interpolate": "linear-closed", "stroke": "black", "strokeWidth": 1}, "encoding": {"detail": {"field": "ring", "type": "nominal"}, "order": {"field": "i", "type": "quantitative"}}},
{"data": {"name": "dirs"}, "transform": [{"calculate": "0", "as": "px"}, {"calculate": "0", "as": "py"}, {"calculate": "20 * sin(datum.i * PI / 8)", "as": "qx"}, {"calculate": "20 * cos(datum.i * PI / 8)", "as": "qy"}],
 "mark": {"type": "rule", "strokeWidth": 1}, "encoding": {"x2": {"field": "qx"}, "y2": {"field": "qy"}, "stroke": {"condition": {"test": "datum.i % 8 == 0", "value": "#555555"}, "value": "black"}}},
{"data": {"name": "rose"}, "transform": [{"filter": "datum.m == 'december 04'"}, {"calculate": "datum.p * sin(datum.i * PI / 8)", "as": "px"}, {"calculate": "datum.p * cos(datum.i * PI / 8)", "as": "py"}],
 "mark": {"type": "line", "interpolate": "linear-closed", "fill": "#9999FF", "stroke": "black", "strokeWidth": 2}, "encoding": {"order": {"field": "i", "type": "quantitative"}}},
{"data": {"name": "dirs"}, "transform": [{"calculate": "25 * sin(datum.i * PI / 8)", "as": "px"}, {"calculate": "25 * cos(datum.i * PI / 8)", "as": "py"}],
 "mark": {"type": "text", "fontSize": 11.5, "color": "black"}, "encoding": {"text": {"field": "dir", "type": "nominal"}}},
{"data": {"name": "levels"}, "transform": [{"calculate": "0", "as": "px"}, {"calculate": "datum.ring", "as": "py"}],
 "mark": {"type": "text", "fontSize": 8, "color": "#999999", "align": "right", "dx": -2, "dy": -4}, "encoding": {"text": {"field": "ring", "type": "quantitative"}}},
{"data": {"values": [{}]}, "transform": [{"calculate": "-23.5", "as": "px"}, {"calculate": "16", "as": "py"}],
 "mark": {"type": "text", "text": "(%)", "fontSize": 10, "fontWeight": "bold", "color": "black"}}
]
},
{
"width": 305, "height": 200,
"title": {"text": "február 05", "orient": "bottom", "offset": 3, "fontSize": 20, "fontWeight": "bold", "color": "black", "anchor": "middle", "dx": 0},
"encoding": {"x": {"field": "px", "type": "quantitative", "scale": {"domain": [-45.29, 45.29], "nice": false, "zero": false}, "axis": null},
 "y": {"field": "py", "type": "quantitative", "scale": {"domain": [-28.42, 30.98], "nice": false, "zero": false}, "axis": null}},
"layer": [
{"data": {"name": "dirs"}, "transform": [{"flatten": ["ring"]}, {"calculate": "datum.ring * sin(datum.i * PI / 8)", "as": "px"}, {"calculate": "datum.ring * cos(datum.i * PI / 8)", "as": "py"}],
 "mark": {"type": "line", "interpolate": "linear-closed", "stroke": "black", "strokeWidth": 1}, "encoding": {"detail": {"field": "ring", "type": "nominal"}, "order": {"field": "i", "type": "quantitative"}}},
{"data": {"name": "dirs"}, "transform": [{"calculate": "0", "as": "px"}, {"calculate": "0", "as": "py"}, {"calculate": "20 * sin(datum.i * PI / 8)", "as": "qx"}, {"calculate": "20 * cos(datum.i * PI / 8)", "as": "qy"}],
 "mark": {"type": "rule", "strokeWidth": 1}, "encoding": {"x2": {"field": "qx"}, "y2": {"field": "qy"}, "stroke": {"condition": {"test": "datum.i % 8 == 0", "value": "#555555"}, "value": "black"}}},
{"data": {"name": "rose"}, "transform": [{"filter": "datum.m == 'február 05'"}, {"calculate": "datum.p * sin(datum.i * PI / 8)", "as": "px"}, {"calculate": "datum.p * cos(datum.i * PI / 8)", "as": "py"}],
 "mark": {"type": "line", "interpolate": "linear-closed", "fill": "#9999FF", "stroke": "black", "strokeWidth": 2}, "encoding": {"order": {"field": "i", "type": "quantitative"}}},
{"data": {"name": "dirs"}, "transform": [{"calculate": "25 * sin(datum.i * PI / 8)", "as": "px"}, {"calculate": "25 * cos(datum.i * PI / 8)", "as": "py"}],
 "mark": {"type": "text", "fontSize": 11.5, "color": "black"}, "encoding": {"text": {"field": "dir", "type": "nominal"}}},
{"data": {"name": "levels"}, "transform": [{"calculate": "0", "as": "px"}, {"calculate": "datum.ring", "as": "py"}],
 "mark": {"type": "text", "fontSize": 8, "color": "#999999", "align": "right", "dx": -2, "dy": -4}, "encoding": {"text": {"field": "ring", "type": "quantitative"}}},
{"data": {"values": [{}]}, "transform": [{"calculate": "-23.3", "as": "px"}, {"calculate": "16", "as": "py"}],
 "mark": {"type": "text", "text": "(%)", "fontSize": 10, "fontWeight": "bold", "color": "black"}}
]
},
{
"width": 201, "height": 200,
"title": {"text": "marec 05", "orient": "bottom", "offset": 3, "fontSize": 20, "fontWeight": "bold", "color": "black", "anchor": "middle", "dx": 6},
"encoding": {"x": {"field": "px", "type": "quantitative", "scale": {"domain": [-32.24, 32.24], "nice": false, "zero": false}, "axis": null},
 "y": {"field": "py", "type": "quantitative", "scale": {"domain": [-30.7, 33.46], "nice": false, "zero": false}, "axis": null}},
"layer": [
{"data": {"name": "dirs"}, "transform": [{"flatten": ["ring"]}, {"filter": "datum.ring % 10 == 0"}, {"calculate": "datum.ring * sin(datum.i * PI / 8)", "as": "px"}, {"calculate": "datum.ring * cos(datum.i * PI / 8)", "as": "py"}],
 "mark": {"type": "line", "interpolate": "linear-closed", "stroke": "black", "strokeWidth": 1}, "encoding": {"detail": {"field": "ring", "type": "nominal"}, "order": {"field": "i", "type": "quantitative"}}},
{"data": {"name": "dirs"}, "transform": [{"calculate": "0", "as": "px"}, {"calculate": "0", "as": "py"}, {"calculate": "20 * sin(datum.i * PI / 8)", "as": "qx"}, {"calculate": "20 * cos(datum.i * PI / 8)", "as": "qy"}],
 "mark": {"type": "rule", "strokeWidth": 1}, "encoding": {"x2": {"field": "qx"}, "y2": {"field": "qy"}, "stroke": {"condition": {"test": "datum.i % 8 == 0", "value": "#555555"}, "value": "black"}}},
{"data": {"name": "rose"}, "transform": [{"filter": "datum.m == 'marec 05'"}, {"calculate": "datum.p * sin(datum.i * PI / 8)", "as": "px"}, {"calculate": "datum.p * cos(datum.i * PI / 8)", "as": "py"}],
 "mark": {"type": "line", "interpolate": "linear-closed", "fill": "#9999FF", "stroke": "black", "strokeWidth": 2}, "encoding": {"order": {"field": "i", "type": "quantitative"}}},
{"data": {"name": "dirs"}, "transform": [{"calculate": "25 * sin(datum.i * PI / 8)", "as": "px"}, {"calculate": "25 * cos(datum.i * PI / 8)", "as": "py"}],
 "mark": {"type": "text", "fontSize": 11.5, "color": "black"}, "encoding": {"text": {"field": "dir", "type": "nominal"}}},
{"data": {"name": "levels"}, "transform": [{"filter": "datum.ring % 10 == 0"}, {"calculate": "0", "as": "px"}, {"calculate": "datum.ring", "as": "py"}],
 "mark": {"type": "text", "fontSize": 8, "color": "#999999", "align": "right", "dx": -2, "dy": -4}, "encoding": {"text": {"field": "ring", "type": "quantitative"}}},
{"data": {"values": [{}]}, "transform": [{"calculate": "-23.8", "as": "px"}, {"calculate": "15.3", "as": "py"}],
 "mark": {"type": "text", "text": "(%)", "fontSize": 10, "fontWeight": "bold", "color": "black"}}
]
},
{
"width": 320, "height": 200,
"title": {"text": "apríl 05", "orient": "bottom", "offset": 3, "fontSize": 20, "fontWeight": "bold", "color": "black", "anchor": "middle", "dx": 16},
"encoding": {"x": {"field": "px", "type": "quantitative", "scale": {"domain": [-47.8, 43.63], "nice": false, "zero": false}, "axis": null},
 "y": {"field": "py", "type": "quantitative", "scale": {"domain": [-26.86, 30.29], "nice": false, "zero": false}, "axis": null}},
"layer": [
{"data": {"name": "dirs"}, "transform": [{"flatten": ["ring"]}, {"calculate": "datum.ring * sin(datum.i * PI / 8)", "as": "px"}, {"calculate": "datum.ring * cos(datum.i * PI / 8)", "as": "py"}],
 "mark": {"type": "line", "interpolate": "linear-closed", "stroke": "black", "strokeWidth": 1}, "encoding": {"detail": {"field": "ring", "type": "nominal"}, "order": {"field": "i", "type": "quantitative"}}},
{"data": {"name": "dirs"}, "transform": [{"calculate": "0", "as": "px"}, {"calculate": "0", "as": "py"}, {"calculate": "20 * sin(datum.i * PI / 8)", "as": "qx"}, {"calculate": "20 * cos(datum.i * PI / 8)", "as": "qy"}],
 "mark": {"type": "rule", "strokeWidth": 1}, "encoding": {"x2": {"field": "qx"}, "y2": {"field": "qy"}, "stroke": {"condition": {"test": "datum.i % 8 == 0", "value": "#555555"}, "value": "black"}}},
{"data": {"name": "rose"}, "transform": [{"filter": "datum.m == 'apríl 05'"}, {"calculate": "datum.p * sin(datum.i * PI / 8)", "as": "px"}, {"calculate": "datum.p * cos(datum.i * PI / 8)", "as": "py"}],
 "mark": {"type": "line", "interpolate": "linear-closed", "fill": "#9999FF", "stroke": "black", "strokeWidth": 2}, "encoding": {"order": {"field": "i", "type": "quantitative"}}},
{"data": {"name": "dirs"}, "transform": [{"calculate": "24 * sin(datum.i * PI / 8)", "as": "px"}, {"calculate": "24 * cos(datum.i * PI / 8)", "as": "py"}],
 "mark": {"type": "text", "fontSize": 9, "color": "black"}, "encoding": {"text": {"field": "dir", "type": "nominal"}}},
{"data": {"name": "levels"}, "transform": [{"calculate": "0", "as": "px"}, {"calculate": "datum.ring", "as": "py"}],
 "mark": {"type": "text", "fontSize": 7, "color": "#999999", "align": "right", "dx": -2, "dy": -4}, "encoding": {"text": {"field": "ring", "type": "quantitative"}}},
{"data": {"values": [{}]}, "transform": [{"calculate": "-25", "as": "px"}, {"calculate": "16.4", "as": "py"}],
 "mark": {"type": "text", "text": "(%)", "fontSize": 9, "fontWeight": "bold", "color": "black"}}
]
}
],
"spacing": 0,
"bounds": "flush"
}
],
"config": {
 "font": "Liberation Sans, Arial, sans-serif",
 "view": {"stroke": null},
 "axis": {"labelFont": "Liberation Sans, Arial, sans-serif", "titleFont": "Liberation Sans, Arial, sans-serif"},
 "legend": {"labelFont": "Liberation Sans, Arial, sans-serif"},
 "title": {"font": "Liberation Sans, Arial, sans-serif"},
 "text": {"font": "Liberation Sans, Arial, sans-serif"}
}
}
